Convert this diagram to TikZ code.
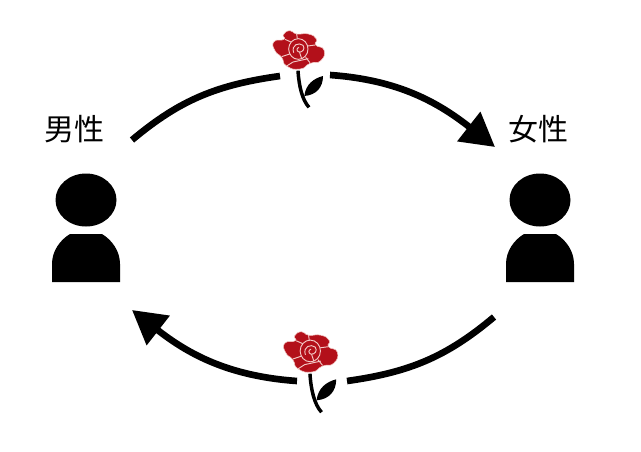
\documentclass[tikz,border=0pt]{standalone}
\usepackage{fontspec}
\newfontfamily\jpfont{Noto Sans CJK JP}
\usetikzlibrary{arrows.meta}
\definecolor{rosered}{HTML}{B3101A}
\definecolor{rosepink}{HTML}{F3C9C6}
\tikzset{
  label/.style={font=\jpfont\fontsize{22.5}{22.5}\selectfont, inner sep=0pt},
  arc/.style={line width=5pt},
  arrowarc/.style={arc, -{Triangle[length=25pt,width=27pt]}},
  gapline/.style={draw=rosepink, line width=0.7pt},
  pics/person/.style={code={
    \fill (0,-4) ellipse [x radius=30.5, y radius=26.5];
    \fill (-34,78) -- (-34,60) .. controls (-34,47) and (-26,36) .. (-16,30)
      -- (16,30) .. controls (26,36) and (34,47) .. (34,60) -- (34,78) -- cycle;
  }},
  pics/rose/.style={code={
    \begin{scope}[x=0.25pt,y=-0.25pt]
      \filldraw[fill=rosered, draw=rosepink, line width=0.4pt] plot[smooth cycle, tension=1] coordinates {(-47,-46) (-27,-58) (-7,-48) (28,-48) (52,-33) (50,-15) (75,0) (65,32) (33,40) (3,57) (-37,48) (-52,22) (-72,2) (-75,-25) (-45,-32)};
      \draw[gapline] (-2,-3) ellipse [x radius=29, y radius=31];
      \draw[gapline] (-42,-32) -- (-24,-24) (-7,-48) -- (-5,-34) (48,-15) -- (26,-12)
        (33,38) -- (20,22) (-52,20) -- (-28,12) (-37,48) -- (-18,36) (-18,36) -- (28,26);
      \draw[gapline] (-16,8) .. controls (-24,-16) and (0,-24) .. (12,-14)
        .. controls (20,-4) and (10,8) .. (0,6) .. controls (-8,4) and (-8,-6) .. (0,-8)
        (2,8) -- (8,26);
      % stem and leaf
      \draw[line width=2.6pt] (-3,62) .. controls (0,110) and (10,150) .. (30,172);
      \fill (16,138) .. controls (20,102) and (45,85) .. (72,78)
        .. controls (72,112) and (52,135) .. (16,138) -- cycle;
    \end{scope}
  }}
}
\begin{document}
\begin{tikzpicture}[x=0.75pt,y=-0.75pt]
  \useasboundingbox (0,0) rectangle (641,451);
  % people
  \node[label] (male) at (74,129) {男性};
  \node[label] (female) at (538,129) {女性};
  \pic (manicon) at (86,204) {person};
  \pic (womanicon) at (540,204) {person};
  % roses
  \pic (rosetop) at (299,50) {rose};
  \pic[scale=1.05] (rosebottom) at (311,352) {rose};
  % ends of the arcs
  \coordinate (a1) at (132,140);
  \coordinate (a2) at (280,76);
  \coordinate (a3) at (330,75);
  \coordinate (a4) at (495,147);
  \coordinate (b1) at (494,317);
  \coordinate (b2) at (347,381);
  \coordinate (b3) at (297,381);
  \coordinate (b4) at (132,310);
  \draw[arc] (a1) to[out=40,in=188] (a2);
  \draw[arrowarc] (a3) to[out=-4,in=142] (a4);
  \draw[arc] (b1) to[out=-140,in=8] (b2);
  \draw[arrowarc] (b3) to[out=176,in=-38] (b4);
\end{tikzpicture}
\end{document}
